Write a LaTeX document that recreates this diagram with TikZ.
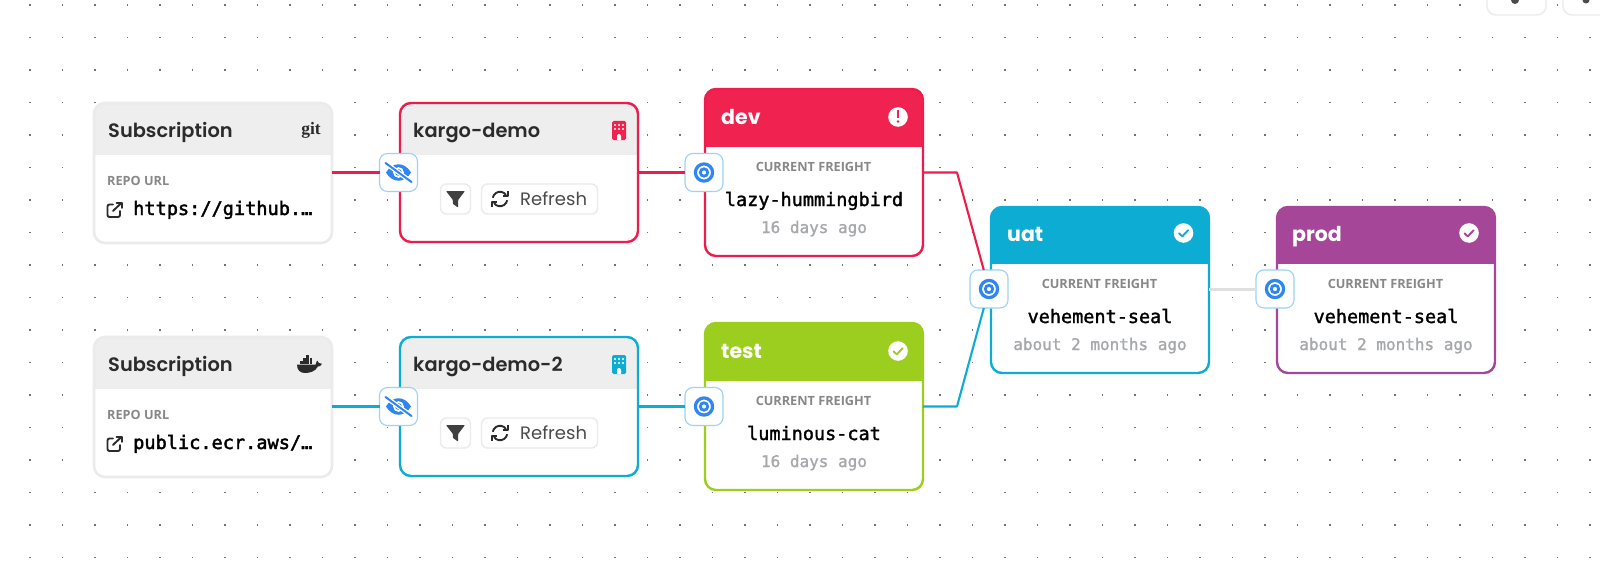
\documentclass[tikz,border=0pt]{standalone}
\usepackage{fontspec}
\setmainfont{Poppins}
\newfontfamily\popsemi{Poppins}[UprightFont=*-SemiBold]
\newfontfamily\labelfont{Open Sans}[UprightFont=*-Bold]
\newfontfamily\monomid{DejaVu Sans Mono}[FakeBold=1.6]
\newfontfamily\monourl{DejaVu Sans Mono}[FakeBold=2.2]
\newfontfamily\monoage{DejaVu Sans Mono}[FakeBold=1.3]
\newfontfamily\gitfont{Liberation Serif}[UprightFont=*-Bold]
\usetikzlibrary{calc}
\definecolor{crimson}{HTML}{EF2250}
\definecolor{crimsonline}{HTML}{EE1C4C}
\definecolor{skyteal}{HTML}{0DADD3}
\definecolor{lime}{HTML}{9BCE1E}
\definecolor{plum}{HTML}{A54698}
\definecolor{headgrey}{HTML}{EEEEEE}
\definecolor{edgegrey}{HTML}{EBEBEB}
\definecolor{wiregrey}{HTML}{DFDFDF}
\definecolor{handleedge}{HTML}{9AD3F5}
\definecolor{handleblue}{HTML}{2F86F2}
\definecolor{ink}{HTML}{2B2B2B}
\definecolor{softgrey}{HTML}{888888}
\definecolor{agegrey}{HTML}{A6A8AC}
\tikzset{
  cardbody/.style={rectangle,rounded corners=11pt,fill=white,inner sep=0pt,outer sep=0pt},
  port/.style={rectangle,rounded corners=8pt,fill=white,draw=handleedge,line width=1.1pt,
    minimum width=38pt,minimum height=38pt,inner sep=0pt,outer sep=0pt},
  wire/.style={line width=2.1pt,line join=round},
  pillbtn/.style={rectangle,rounded corners=6pt,fill=white,draw=edgegrey,line width=1.4pt,
    minimum height=30pt,inner sep=0pt,outer sep=0pt},
  title/.style={anchor=base west,inner sep=0pt,text=ink,font=\popsemi\fontsize{19.4}{19}\selectfont},
  stagetitle/.style={anchor=base west,inner sep=0pt,text=white,font=\bfseries\fontsize{20.5}{20}\selectfont},
  caption/.style={inner sep=0pt,text=softgrey,font=\labelfont\fontsize{12.7}{12}\selectfont},
  freight/.style={anchor=base,inner sep=0pt,text=black,font=\monomid\fontsize{18.5}{18}\selectfont},
  age/.style={anchor=base,inner sep=0pt,text=agegrey,font=\monoage\fontsize{16}{16}\selectfont},
  url/.style={anchor=base west,inner sep=0pt,text=black,font=\monourl\fontsize{18.6}{18}\selectfont},
  refreshlabel/.style={anchor=base west,inner sep=0pt,text=ink!85!white,font=\fontsize{18}{18}\selectfont},
}
% white body, clipped coloured header, then the outline on top
\newcommand{\cardskin}[5]{%
  \begin{scope}
    \clip[rounded corners=11pt] (#1.south west) rectangle (#1.north east);
    \fill[#2] (#1.north west) rectangle ([yshift=-#3pt]#1.north east);
  \end{scope}
  \draw[#4,line width=#5pt,rounded corners=11pt] (#1.south west) rectangle (#1.north east);
}
\newcommand{\targeticon}[1]{%
  \draw[handleblue,line width=3.2pt] (#1) circle[radius=8.6];
  \draw[handleblue,line width=2.8pt] (#1) circle[radius=3.7];
}
\newcommand{\eyeicon}[1]{%
  \begin{scope}[shift={(#1)}]
    \fill[handleblue] (-12.5,0) .. controls (-6,-11) and (6,-11) .. (12.5,0)
      .. controls (6,11) and (-6,11) .. (-12.5,0) -- cycle;
    \fill[white] (0,0) circle[radius=5.4];
    \fill[handleblue] (0,0) circle[radius=3.4];
    \draw[white,line width=4.6pt] (-13,-9.5) -- (13,9.5);
    \draw[handleblue,line width=2pt,line cap=round] (-13,-9.5) -- (13,9.5);
  \end{scope}
}
\newcommand{\buildingicon}[2]{%
  \begin{scope}[shift={(#1)}]
    \fill[#2,rounded corners=1.5pt] (0,0) rectangle (14,19);
    \foreach \px in {3,7,11} \foreach \py in {4,8} {
      \fill[white] (\px,\py) circle[radius=1.1];
    }
    \fill[white] (5,19) -- (5,15) arc[start angle=180,end angle=360,radius=2] -- (9,19) -- cycle;
  \end{scope}
}
\newcommand{\funnelicon}[1]{%
  \fill[ink!90!white,shift={(#1)},rounded corners=0.8pt]
    (-9.5,-8) -- (9.5,-8) -- (2.6,1) -- (2.6,8.5) -- (-2.6,5) -- (-2.6,1) -- cycle;
}
\newcommand{\refreshicon}[1]{%
  \begin{scope}[shift={(#1)},yscale=-1,line width=1.9pt,ink]
    \foreach \turn in {0,180} {
      \begin{scope}[rotate=\turn]
        \draw (-7.2,1.2) arc[start angle=170,end angle=35,radius=7.3];
        \draw[line join=round] (7.6,7.6) -- (7.6,3) -- (3,3);
      \end{scope}
    }
  \end{scope}
}
\newcommand{\linkicon}[1]{%
  \begin{scope}[shift={(#1)},line width=1.9pt,ink,line join=round,line cap=round]
    \draw[rounded corners=2pt] (6,2.5) -- (0.5,2.5) -- (0.5,15) -- (13,15) -- (13,9);
    \draw (6,9) -- (14.5,0.8);
    \draw (9.5,0.6) -- (14.8,0.6) -- (14.8,5.8);
  \end{scope}
}
\newcommand{\whaleicon}[1]{%
  \begin{scope}[shift={(#1)}]
    \fill[ink] (0,8.6) -- (18.6,8.6) .. controls (19,6) and (20,5) .. (20.4,4.6)
      .. controls (21.4,5.4) and (21.8,6.4) .. (21.8,7) .. controls (23,6.6) and (24.2,7) .. (25,7.8)
      .. controls (24,10) and (22.4,10.6) .. (20.8,10.6)
      .. controls (18.4,15.4) and (13,17) .. (8,17) .. controls (3,17) and (0,14) .. (0,8.6) -- cycle;
    \foreach \bx/\by in {3/5.2,6.2/5.2,9.4/5.2,12.6/5.2,6.2/2.2,9.4/2.2,12.6/2.2,9.4/-0.8} {
      \fill[ink] (\bx,\by) rectangle ++(2.7,2.5);
    }
  \end{scope}
}
\newcommand{\stateicon}[2]{% check mark badge
  \fill[white] (#1) circle[radius=9.8];
  \draw[#2,line width=1.9pt,line cap=round,line join=round,shift={(#1)}] (-4.4,0.4) -- (-1.2,3.4) -- (4.6,-2.8);
}
\begin{document}
\begin{tikzpicture}[x=1pt,y=-1pt]
\useasboundingbox (0,0) rectangle (1600,575);
\clip (0,0) rectangle (1600,575);
\fill[white] (0,0) rectangle (1600,575);

% canvas dot grid
\foreach \gx in {0,...,48} \foreach \gy in {0,...,17} {
  \fill[black!55] ({30+32.5*\gx-0.6},{5+32.5*\gy-0.6}) rectangle ++(1.2,1.2);
}

% toolbar buttons at the top edge
\node[pillbtn,fill=white,minimum width=59pt,minimum height=40pt,rounded corners=9pt] (toolA) at (1516.5,-5) {};
\node[pillbtn,fill=white,minimum width=59pt,minimum height=40pt,rounded corners=9pt] (toolB) at (1592.5,-5) {};
\fill[ink!85!white] (1515,0) circle[radius=4];
\fill[ink!85!white] (1586,0) circle[radius=3.5];

% subscriptions
\node[cardbody,minimum width=238pt,minimum height=140pt] (subA) at (213,173) {};
\cardskin{subA}{headgrey}{52}{edgegrey}{2.6}
\node[cardbody,minimum width=238pt,minimum height=140pt] (subB) at (213,407) {};
\cardskin{subB}{headgrey}{52}{edgegrey}{2.6}

% warehouses
\node[cardbody,minimum width=238pt,minimum height=139pt] (whA) at (519,172.5) {};
\cardskin{whA}{headgrey}{52}{crimsonline}{2.4}
\node[cardbody,minimum width=238pt,minimum height=139pt] (whB) at (519,406.5) {};
\cardskin{whB}{headgrey}{52}{skyteal}{2.4}

% stages
\node[cardbody,minimum width=218pt,minimum height=167pt] (dev) at (814,172.5) {};
\cardskin{dev}{crimson}{58}{crimsonline}{2.4}
\node[cardbody,minimum width=218pt,minimum height=167pt] (test) at (814,406.5) {};
\cardskin{test}{lime}{58}{lime}{2.4}
\node[cardbody,minimum width=218pt,minimum height=166pt] (uat) at (1100,290) {};
\cardskin{uat}{skyteal}{57}{skyteal}{2.4}
\node[cardbody,minimum width=218pt,minimum height=166pt] (prod) at (1386,290) {};
\cardskin{prod}{plum}{57}{plum}{2.4}

% connection ports
\node[port] (portWhA) at (398.5,172.5) {};
\node[port] (portWhB) at (398.5,406.5) {};
\node[port] (portDev) at (704,172.5) {};
\node[port] (portTest) at (704,406.5) {};
\node[port] (portUat) at (989,289) {};
\node[port] (portProd) at (1275,289) {};

% connectors
\coordinate (devBend) at (957,172.5);
\coordinate (testBend) at (957,406.5);
\draw[wire,crimsonline] (subA.east |- portWhA) -- (portWhA);
\draw[wire,crimsonline] (whA.east |- portDev) -- (portDev);
\draw[wire,skyteal] (subB.east |- portWhB) -- (portWhB);
\draw[wire,skyteal] (whB.east |- portTest) -- (portTest);
\draw[wire,crimsonline] (dev.east |- portDev) -- (devBend) -- (portUat);
\draw[wire,skyteal] (test.east |- portTest) -- (testBend) -- (portUat);
\draw[wire,wiregrey,line width=3pt] (uat.east |- portProd) -- (portProd);

% port glyphs
\eyeicon{portWhA}
\eyeicon{portWhB}
\targeticon{portDev}
\targeticon{portTest}
\targeticon{portUat}
\targeticon{portProd}

% subscription contents
\node[title] (subAname) at (108,137) {Subscription};
\node[anchor=base east,inner sep=0pt,text=ink,font=\gitfont\fontsize{17.5}{17}\selectfont] (subAkind) at (321,135) {git};
\node[caption,anchor=base west] (subAcap) at (107,185) {REPO URL};
\linkicon{107,202}
\node[url] (subAurl) at (133,215) {https://github.…};

\node[title] (subBname) at (108,371) {Subscription};
\whaleicon{297,356}
\node[caption,anchor=base west] (subBcap) at (107,419) {REPO URL};
\linkicon{107,436}
\node[url] (subBurl) at (133,449) {public.ecr.aws/…};

% warehouse contents
\node[title] (whAname) at (413,137) {kargo-demo};
\buildingicon{612,121}{crimson}
\node[pillbtn,minimum width=30pt] (filterA) at (455.5,199) {};
\funnelicon{filterA}
\node[pillbtn,minimum width=116pt] (refreshA) at (539.5,199) {};
\refreshicon{500,199}
\node[refreshlabel] (refreshAtxt) at (520,205) {Refresh};

\node[title] (whBname) at (413,371) {kargo-demo-2};
\buildingicon{612,355}{skyteal}
\node[pillbtn,minimum width=30pt] (filterB) at (455.5,433) {};
\funnelicon{filterB}
\node[pillbtn,minimum width=116pt] (refreshB) at (539.5,433) {};
\refreshicon{500,433}
\node[refreshlabel] (refreshBtxt) at (520,439) {Refresh};

% dev stage
\node[stagetitle] (devname) at (721,124.5) {dev};
\fill[white] (898,117) circle[radius=9.8];
\fill[crimson] (898,116) ++(-1.2,-5.6) rectangle ++(2.4,7.4);
\fill[crimson] (898,121.5) circle[radius=1.4];
\node[caption,anchor=base] (devcap) at (813.5,171) {CURRENT FREIGHT};
\node[freight] (devfreight) at (814,206) {lazy-hummingbird};
\node[age] (devage) at (814,233) {16 days ago};

% test stage
\node[stagetitle] (testname) at (721,358.5) {test};
\stateicon{898,351}{lime}
\node[caption,anchor=base] (testcap) at (813.5,405) {CURRENT FREIGHT};
\node[freight] (testfreight) at (814,440) {luminous-cat};
\node[age] (testage) at (814,467) {16 days ago};

% uat stage
\node[stagetitle] (uatname) at (1007,241.5) {uat};
\stateicon{1183.5,233}{skyteal}
\node[caption,anchor=base] (uatcap) at (1099.5,288) {CURRENT FREIGHT};
\node[freight] (uatfreight) at (1100,323) {vehement-seal};
\node[age] (uatage) at (1100,350) {about 2 months ago};

% prod stage
\node[stagetitle] (prodname) at (1292,241.5) {prod};
\stateicon{1469,233}{plum}
\node[caption,anchor=base] (prodcap) at (1385.5,288) {CURRENT FREIGHT};
\node[freight] (prodfreight) at (1386,323) {vehement-seal};
\node[age] (prodage) at (1386,350) {about 2 months ago};
\end{tikzpicture}
\end{document}
